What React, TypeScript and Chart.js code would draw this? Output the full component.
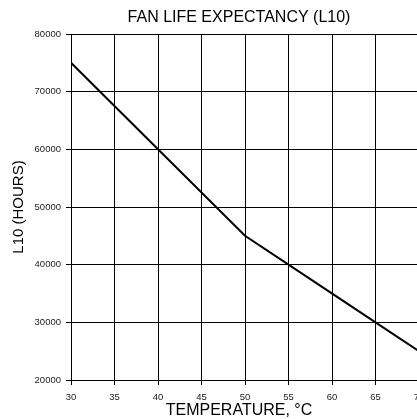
import React, { useEffect, useRef } from "react";
import { Chart, registerables } from "chart.js";

Chart.register(...registerables);

const temperatures = [30, 40, 50, 55, 65, 70];
const lifeHours = [75000, 60000, 45000, 40000, 30000, 25000];
const titleText = "FAN LIFE EXPECTANCY (L10)";
const xTitle = "TEMPERATURE, °C";
const yTitle = "L10 (HOURS)";

const FONT = "'Liberation Sans', Arial, Helvetica, sans-serif";

export default function App() {
  const ref = useRef<HTMLCanvasElement | null>(null);

  useEffect(() => {
    if (!ref.current) return;
    const chart = new Chart(ref.current, {
      type: "line",
      data: {
        datasets: [
          {
            data: temperatures.map((t, i) => ({ x: t, y: lifeHours[i] })),
            borderColor: "#000",
            borderWidth: 2,
            pointRadius: 0,
            fill: false,
            tension: 0,
            xAxisID: "x",
            yAxisID: "y",
          },
        ],
      },
      options: {
        responsive: false,
        animation: false,
        layout: { padding: 0 },
        plugins: {
          legend: { display: false },
          tooltip: { enabled: false },
          title: {
            display: true,
            text: titleText,
            color: "#000",
            font: { family: FONT, size: 16, weight: "normal", lineHeight: 1.2 },
            padding: { top: 8.4, bottom: 6.4 },
          },
          subtitle: {
            display: true,
            position: "bottom",
            text: xTitle,
            color: "#000",
            font: { family: FONT, size: 16, weight: "normal", lineHeight: 1.0 },
            padding: { top: 0, bottom: 0 },
          },
        },
        scales: {
          x: {
            type: "linear",
            min: 30,
            max: 70,
            ticks: {
              stepSize: 5,
              color: "#222",
              font: { family: FONT, size: 9.5 },
              padding: 7,
              maxRotation: 0,
            },
            grid: { color: "#000", lineWidth: 1, tickLength: 5 },
            border: { color: "#000", width: 1 },
            title: { display: false },
            afterFit: (s: any) => {
              s.height = 23;
            },
          },
          y: {
            min: 20000,
            max: 80000,
            ticks: {
              stepSize: 10000,
              color: "#222",
              font: { family: FONT, size: 9.5 },
              padding: 5,
              callback: (v: any) => String(v),
            },
            grid: { color: "#000", lineWidth: 1, tickLength: 5 },
            border: { color: "#000", width: 1 },
            title: {
              display: true,
              text: yTitle,
              color: "#000",
              font: { family: FONT, size: 15, lineHeight: 1.2 },
              padding: { top: 10, bottom: 0 },
            },
            afterFit: (s: any) => {
              s.width = 71;
            },
          },
          spacer: {
            type: "linear",
            position: "right",
            display: true,
            grid: { display: false, drawTicks: false },
            ticks: { display: false },
            border: { display: false },
            title: { display: false },
            afterFit: (s: any) => {
              s.width = 59;
            },
          },
        },
      },
    });
    return () => chart.destroy();
  }, []);

  return (
    <div
      style={{
        position: "fixed",
        left: 0,
        top: 0,
        width: 417,
        height: 419,
        overflow: "hidden",
        background: "#fff",
      }}
    >
      <canvas ref={ref} width={478} height={419} style={{ display: "block" }} />
    </div>
  );
}
